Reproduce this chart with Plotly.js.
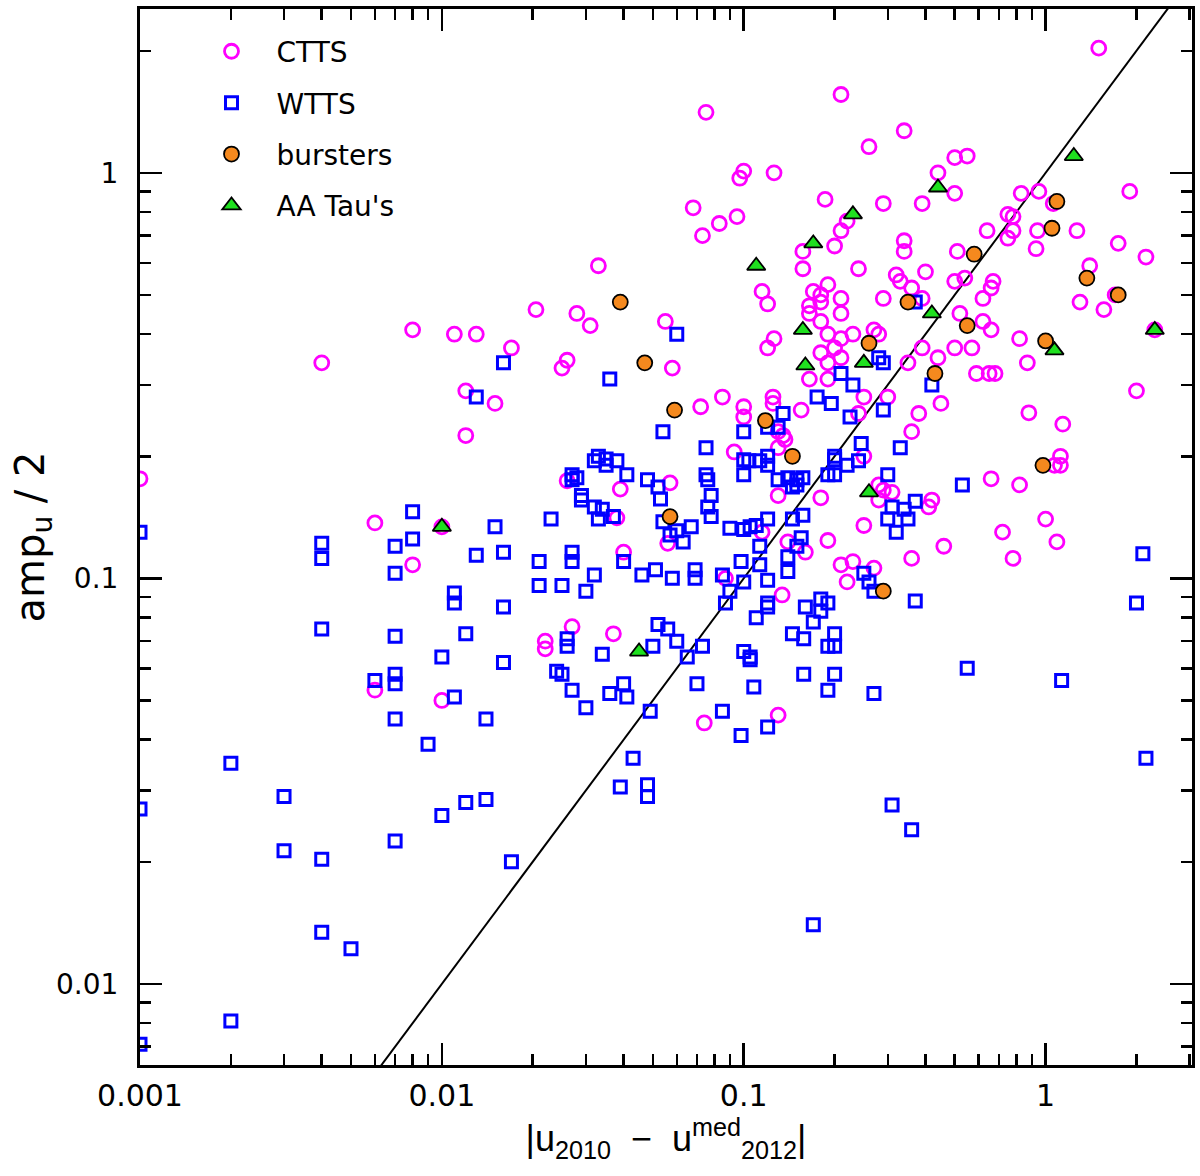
<!DOCTYPE html>
<html>
<head>
<meta charset="utf-8">
<script src="https://cdn.plot.ly/plotly-3.0.1.min.js"></script>
<style>
  html, body { margin: 0; padding: 0; background: #fff; }
  #graph_panel { width: 1200px; height: 1176px; }
</style>
</head>
<body>
<div id="graph_panel"></div>
<script>
// |u2010 - u2012med| vs amp_u/2 (x, y)
var cttsPts = [
  [1.5,2.03],[0.21,1.56],[0.34,1.27],[0.26,1.16],[0.5,1.09],[0.55,1.10],[0.44,1.0],[0.5,0.89],
  [0.186,0.86],[0.21,0.72],[0.22,0.76],[0.29,0.84],[0.39,0.84],[0.83,0.89],[0.95,0.9],[1.06,0.84],
  [1.9,0.9],[0.94,0.72],[0.75,0.79],[0.78,0.78],[0.78,0.72],[0.75,0.69],[0.64,0.72],[1.27,0.72],
  [0.93,0.65],[1.74,0.67],[2.15,0.62],[0.51,0.64],[0.157,0.64],[0.2,0.66],[0.34,0.68],[0.34,0.64],
  [0.24,0.58],[0.157,0.58],[0.4,0.57],[0.32,0.56],[1.4,0.59],[0.075,1.41],[0.1,1.01],[0.097,0.97],
  [0.126,1.0],[0.068,0.82],[0.083,0.75],[0.095,0.78],[0.073,0.7],[0.033,0.59],
  [0.33,0.54],[0.36,0.52],[0.39,0.49],[0.5,0.54],[0.54,0.55],[0.67,0.54],[0.66,0.52],[1.7,0.5],
  [0.62,0.49],[1.3,0.48],[1.56,0.46],[0.52,0.45],[0.62,0.43],[0.66,0.41],[2.3,0.41],[0.82,0.39],
  [0.39,0.37],[0.5,0.37],[0.57,0.37],[0.44,0.35],[0.35,0.34],[0.87,0.34],[0.59,0.32],[0.65,0.32],
  [0.68,0.32],[2.0,0.29],[0.45,0.27],[0.38,0.255],[0.88,0.256],[1.14,0.24],[0.36,0.23],[1.12,0.2],
  [1.07,0.19],[1.12,0.19],[0.66,0.176],[0.82,0.17],[0.42,0.156],[0.41,0.15],[1.0,0.14],[0.72,0.13],
  [1.09,0.123],[0.46,0.12],[0.36,0.112],[0.78,0.112],
  [0.0205,0.46],[0.028,0.45],[0.031,0.42],[0.055,0.43],[0.115,0.51],[0.12,0.475],[0.17,0.51],[0.19,0.53],
  [0.18,0.5],[0.18,0.48],[0.165,0.47],[0.165,0.45],[0.21,0.49],[0.21,0.45],[0.18,0.43],[0.19,0.40],
  [0.29,0.49],[0.27,0.41],[0.28,0.4],[0.21,0.39],[0.23,0.4],[0.026,0.345],[0.025,0.33],[0.058,0.33],
  [0.126,0.39],[0.12,0.37],[0.18,0.36],[0.19,0.34],[0.165,0.31],[0.19,0.31],[0.2,0.37],[0.21,0.35],
  [0.25,0.28],[0.3,0.28],[0.072,0.265],[0.085,0.28],[0.125,0.28],[0.125,0.27],[0.1,0.265],[0.1,0.25],
  [0.155,0.26],[0.13,0.23],[0.135,0.225],[0.13,0.21],[0.137,0.22],[0.24,0.255],[0.093,0.205],[0.026,0.174],
  [0.039,0.166],[0.038,0.141],[0.057,0.172],[0.056,0.122],[0.13,0.16],[0.25,0.2],[0.18,0.158],[0.28,0.17],
  [0.29,0.165],[0.31,0.163],[0.28,0.156],[0.25,0.135],[0.115,0.13],[0.14,0.123],[0.16,0.116],[0.19,0.124],
  [0.21,0.108],[0.23,0.11],[0.27,0.106],[0.22,0.098],[0.04,0.116],[0.087,0.1],[0.134,0.091],[0.027,0.076],
  [0.037,0.073],[0.022,0.07],[0.022,0.067],
  [0.008,0.41],[0.011,0.40],[0.013,0.4],[0.017,0.37],[0.004,0.34],[0.012,0.29],[0.015,0.27],[0.012,0.225],
  [0.001,0.176],[0.006,0.137],[0.01,0.134],[0.008,0.108],[0.006,0.053],[0.01,0.05],[0.074,0.044],[0.13,0.046]
];

var wttsPts = [
  [0.016,0.34],[0.013,0.28],[0.001,0.13],[0.008,0.146],[0.015,0.134],[0.004,0.122],[0.004,0.112],[0.007,0.12],
  [0.008,0.125],[0.007,0.103],[0.013,0.114],[0.016,0.116],[0.021,0.11],[0.021,0.096],[0.011,0.092],[0.011,0.087],
  [0.016,0.085],[0.004,0.075],[0.007,0.072],[0.012,0.073],[0.01,0.064],[0.016,0.062],[0.006,0.056],[0.007,0.058],
  [0.007,0.055],[0.011,0.051],[0.007,0.045],[0.014,0.045],[0.009,0.039],[0.002,0.035],[0.003,0.029],[0.001,0.027],
  [0.012,0.028],[0.014,0.0285],[0.01,0.026],[0.007,0.0225],[0.003,0.0213],[0.004,0.0203],[0.017,0.020],[0.004,0.0134],
  [0.005,0.0122],[0.002,0.0081],[0.001,0.0071],
  [0.04,0.055],[0.027,0.053],[0.036,0.052],[0.041,0.051],[0.03,0.048],[0.049,0.047],[0.07,0.055],[0.108,0.054],
  [0.158,0.058],[0.19,0.053],[0.27,0.052],[0.085,0.047],[0.098,0.041],[0.12,0.043],[0.043,0.036],[0.039,0.0306],
  [0.048,0.031],[0.048,0.029],[0.31,0.0276],[0.36,0.024],[0.17,0.0140],
  [0.06,0.40],[0.036,0.31],[0.21,0.32],[0.28,0.35],[0.29,0.34],[0.23,0.3],[0.175,0.28],[0.195,0.27],
  [0.135,0.255],[0.12,0.236],[0.13,0.236],[0.225,0.25],[0.29,0.26],[0.054,0.23],[0.1,0.23],[0.075,0.21],
  [0.245,0.215],[0.33,0.21],[0.033,0.2],[0.032,0.195],[0.035,0.197],[0.035,0.19],[0.038,0.195],[0.041,0.18],
  [0.027,0.18],[0.028,0.177],[0.027,0.175],[0.029,0.16],[0.029,0.156],[0.032,0.15],[0.034,0.148],[0.033,0.14],
  [0.037,0.142],[0.023,0.14],[0.048,0.175],[0.052,0.168],[0.053,0.157],[0.054,0.138],[0.057,0.128],[0.06,0.131],
  [0.063,0.123],[0.067,0.134],[0.075,0.18],[0.076,0.175],[0.078,0.16],[0.076,0.15],[0.078,0.142],[0.1,0.196],
  [0.104,0.195],[0.12,0.2],[0.113,0.195],[0.12,0.19],[0.1,0.18],[0.13,0.175],[0.14,0.177],[0.15,0.175],
  [0.157,0.177],[0.15,0.17],[0.145,0.168],[0.2,0.2],[0.2,0.196],[0.19,0.18],[0.2,0.18],[0.22,0.19],
  [0.24,0.195],[0.3,0.18],[0.31,0.15],[0.34,0.148],[0.37,0.155],[0.3,0.14],[0.35,0.14],[0.32,0.13],
  [0.09,0.133],[0.1,0.132],[0.105,0.134],[0.11,0.135],[0.12,0.14],[0.145,0.14],[0.157,0.143],[0.155,0.126],
  [0.15,0.12],[0.14,0.113],[0.14,0.104],[0.113,0.12],[0.098,0.11],[0.113,0.108],[0.25,0.103],[0.26,0.098],
  [0.27,0.093],[0.37,0.088],[0.027,0.116],[0.027,0.11],[0.04,0.11],[0.032,0.102],[0.03,0.093],[0.025,0.096],
  [0.046,0.102],[0.051,0.105],[0.058,0.1],[0.069,0.105],[0.069,0.1],[0.085,0.102],[0.1,0.098],[0.12,0.099],
  [0.09,0.093],[0.087,0.087],[0.12,0.087],[0.12,0.085],[0.16,0.085],[0.18,0.089],[0.19,0.087],[0.18,0.083],
  [0.11,0.08],[0.17,0.078],[0.052,0.077],[0.056,0.075],[0.026,0.071],[0.026,0.068],[0.05,0.068],[0.06,0.07],
  [0.073,0.068],[0.034,0.065],[0.065,0.064],[0.1,0.066],[0.105,0.064],[0.105,0.063],[0.145,0.073],[0.158,0.071],
  [0.2,0.073],[0.19,0.068],[0.2,0.068],[0.024,0.059],[0.025,0.058],[0.2,0.058],
  [0.37,0.48],[0.42,0.3],[0.53,0.17],[2.1,0.115],[2.0,0.087],[0.55,0.06],[1.13,0.056],[2.15,0.036]
];

var burstX = [0.039,0.047,0.059,0.118,0.145,0.057,0.26,0.35,0.43,0.55,0.58,1.05,1.09,1.37,1.74,1.0,0.98,0.29];
var burstY = [0.48,0.34,0.26,0.245,0.2,0.142,0.38,0.48,0.32,0.42,0.63,0.73,0.85,0.55,0.5,0.385,0.19,0.093];

var aaTauX = [0.01,0.045,0.11,0.17,0.23,0.44,1.24,0.157,0.16,0.25,0.42,1.07,2.3,0.26];
var aaTauY = [0.134,0.066,0.59,0.67,0.79,0.92,1.1,0.41,0.335,0.34,0.45,0.365,0.41,0.163];

// one-to-one line
var diagX = [0.001, 10];
var diagY = [0.001, 10];

var xTickVals = [0.001, 0.01, 0.1, 1];
var xTickText = ['0.001', '0.01', '0.1', '1'];
var yTickVals = [0.01, 0.1, 1];
var yTickText = ['0.01', '0.1', '1'];

var FONT = 'DejaVu Sans, Arial, sans-serif';

function createGraph(){
  var diag = {
    x: diagX, y: diagY, mode: 'lines', showlegend: false, hoverinfo: 'skip',
    line: { color: '#000', width: 2 }
  };
  var ctts = {
    x: cttsPts.map(p => p[0]), y: cttsPts.map(p => p[1]),
    mode: 'markers', name: 'CTTS', legendgroup: 'a',
    marker: { symbol: 'circle-open', size: 14, color: '#ff00ff', line: { width: 2.8, color: '#ff00ff' } }
  };
  var wtts = {
    x: wttsPts.map(p => p[0]), y: wttsPts.map(p => p[1]),
    mode: 'markers', name: 'WTTS', legendgroup: 'b',
    marker: { symbol: 'square-open', size: 12, color: '#0000ff', line: { width: 3, color: '#0000ff' } }
  };
  var bursters = {
    x: burstX, y: burstY, mode: 'markers', name: 'bursters', legendgroup: 'c',
    marker: { symbol: 'circle', size: 15, color: '#f5891e', line: { width: 1.8, color: '#000' } }
  };
  var aaTau = {
    x: aaTauX, y: aaTauY, mode: 'markers', name: "AA Tau's", legendgroup: 'd',
    marker: { symbol: 'triangle-up', size: 16, color: '#1fe01f', line: { width: 1.8, color: '#000' } }
  };

  var axisBase = {
    type: 'log', showgrid: false, zeroline: false,
    showline: true, linewidth: 3, linecolor: '#000', mirror: 'ticks',
    ticks: 'inside', ticklen: 22, tickwidth: 2.5, tickcolor: '#000',
    minor: { ticks: 'inside', ticklen: 11, tickwidth: 2.5, tickcolor: '#000', dtick: 'D1', showgrid: false }
  };

  var layout = {
    width: 1200, height: 1176,
    margin: { l: 140, r: 8, t: 9, b: 111 },
    paper_bgcolor: '#fff', plot_bgcolor: '#fff',
    font: { family: FONT, color: '#000' },
    xaxis: Object.assign({}, axisBase, {
      range: [-3, 0.485], tickmode: 'array', tickvals: xTickVals, ticktext: xTickText,
      tickfont: { family: FONT, size: 30, color: '#000' },
      ticklabelstandoff: 2,
      title: {
        text: '|u<sub>2010</sub>  \u2212  u<sup>med</sup><sub>2012</sub>|',
        font: { family: 'Liberation Sans, Arial, sans-serif', size: 36 }, standoff: 14
      }
    }),
    yaxis: Object.assign({}, axisBase, {
      range: [-2.2, 0.404], tickmode: 'array', tickvals: yTickVals, ticktext: yTickText,
      tickfont: { family: FONT, size: 28, color: '#000' },
      ticklabelstandoff: 13,
      title: { text: 'amp<sub>u</sub> / 2', font: { family: FONT, size: 40 }, standoff: 0 }
    }),
    legend: {
      x: 0.0442, y: 0.9834, xanchor: 'left', yanchor: 'top',
      bgcolor: 'rgba(0,0,0,0)', borderwidth: 0, tracegroupgap: 12, itemwidth: 80,
      font: { family: FONT, size: 28, color: '#000' }
    },
    showlegend: true
  };

  Plotly.newPlot('graph_panel', [diag, ctts, wtts, bursters, aaTau], layout, { staticPlot: true });
}

createGraph();
</script>
</body>
</html>
